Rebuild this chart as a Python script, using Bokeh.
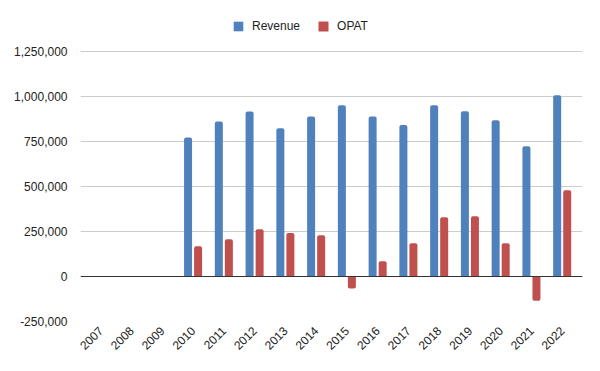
import math
import numpy as np
from bokeh.plotting import figure
from bokeh.models import (FactorRange, Range1d, Legend, LegendItem, Span, FixedTicker,
                          NumeralTickFormatter, ColumnDataSource, CDSView, BooleanFilter)
from bokeh.transform import dodge
from bokeh.embed import file_html
from bokeh.resources import INLINE

years = ["2007", "2008", "2009", "2010", "2011", "2012", "2013", "2014",
         "2015", "2016", "2017", "2018", "2019", "2020", "2021", "2022"]
revenue = [np.nan, np.nan, np.nan, 772000, 861000, 917000, 824000, 889000,
           952000, 889000, 841000, 952000, 918000, 868000, 724000, 1007000]
opat = [np.nan, np.nan, np.nan, 168000, 207000, 263000, 241000, 229000,
        -67000, 85000, 185000, 329000, 335000, 185000, -135000, 479000]
y_ticks = [-250000, 0, 250000, 500000, 750000, 1000000, 1250000]

BLUE = "#4f81bd"
RED = "#c0504d"
FONT = "Liberation Sans"

src = ColumnDataSource(dict(year=years, revenue=revenue, opat=opat))
pos_mask = [bool(v == v and v >= 0) for v in opat]
neg_mask = [bool(v == v and v < 0) for v in opat]

# frame spans from the legend row (top) down to the -250,000 line;
# the value axis keeps 270 px per 1,500,000 and leaves 40 px of headroom for the legend
TOP_BORDER = 11
AXIS_TOP_PX = 51
units_per_px = (y_ticks[-1] - y_ticks[0]) / 270
y_end = y_ticks[-1] + (AXIS_TOP_PX - TOP_BORDER) * units_per_px

p = figure(width=584, height=362, output_backend="svg", toolbar_location=None,
           x_range=FactorRange(*years, range_padding=0.16, range_padding_units="absolute"),
           y_range=Range1d(y_ticks[0], y_end),
           min_border_left=80, min_border_right=2, min_border_top=TOP_BORDER,
           min_border_bottom=41)
p.outline_line_color = None
p.background_fill_color = "white"

bw = 0.26
r_rev = p.vbar(x=dodge("year", -0.163, range=p.x_range), top="revenue", bottom=0, width=bw,
               source=src, fill_color=BLUE, line_color=None, border_radius=(2, 2, 0, 0))
r_op1 = p.vbar(x=dodge("year", 0.163, range=p.x_range), top="opat", bottom=0, width=bw,
               source=src, view=CDSView(filter=BooleanFilter(pos_mask)),
               fill_color=RED, line_color=None, border_radius=(2, 2, 0, 0))
r_op2 = p.vbar(x=dodge("year", 0.163, range=p.x_range), top=0, bottom="opat", width=bw,
               source=src, view=CDSView(filter=BooleanFilter(neg_mask)),
               fill_color=RED, line_color=None, border_radius=(0, 0, 2, 2))

p.add_layout(Span(location=0, dimension="width", line_color="#333333", line_width=1))

p.xgrid.grid_line_color = None
p.ygrid.grid_line_color = "#cccccc"
p.ygrid.ticker = FixedTicker(ticks=y_ticks)

p.yaxis.ticker = FixedTicker(ticks=y_ticks)
p.yaxis.formatter = NumeralTickFormatter(format="0,0")
for ax in (p.xaxis[0], p.yaxis[0]):
    ax.axis_line_color = None
    ax.major_tick_line_color = None
    ax.minor_tick_line_color = None
    ax.major_label_text_font = FONT
    ax.major_label_text_font_size = "12px"
    ax.major_label_text_color = "#222222"
p.yaxis.major_label_standoff = 7
p.xaxis.major_label_orientation = math.pi / 4
p.xaxis.major_label_standoff = 1

legend = Legend(items=[LegendItem(label="Revenue", renderers=[r_rev]),
                       LegendItem(label="OPAT", renderers=[r_op1, r_op2])],
                location=(152, 288), orientation="horizontal",
                glyph_width=12, glyph_height=12, label_height=12, label_standoff=8,
                spacing=17, padding=0, margin=0, border_line_color=None,
                background_fill_alpha=0, label_text_font=FONT,
                label_text_font_size="12px", label_text_color="#222222")
p.add_layout(legend, "center")

open("out.html", "w").write(file_html(p, INLINE))
